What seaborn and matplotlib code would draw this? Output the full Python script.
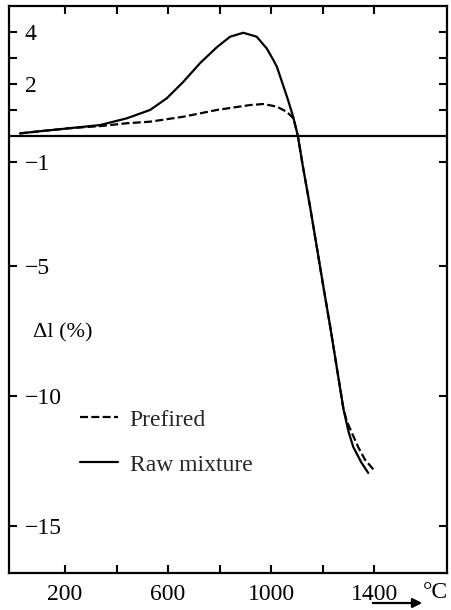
import matplotlib
matplotlib.use("Agg")
import matplotlib.pyplot as plt
import seaborn as sns

# Dilatometer curves: linear change of length vs. temperature
raw_temp = [25, 100, 219, 336, 440, 530, 595, 659, 724, 790, 841, 892, 944, 983,
            1009, 1023, 1066, 1086, 1104, 1124, 1151, 1178, 1203, 1229, 1255, 1281,
            1300, 1319, 1350, 1377]
raw_dl = [0.10, 0.18, 0.30, 0.42, 0.68, 1.00, 1.45, 2.08, 2.80, 3.42, 3.82, 3.97, 3.82, 3.37,
          2.92, 2.65, 1.38, 0.73, 0.00, -1.20, -2.70, -4.30, -5.80, -7.30, -8.90, -10.50,
          -11.35, -11.96, -12.55, -12.96]

prefired_temp = [25, 100, 219, 336, 440, 530, 659, 789, 918, 970, 1022, 1061, 1087,
                 1104, 1124, 1151, 1178, 1203, 1229, 1255, 1281, 1295, 1338, 1365, 1404]
prefired_dl = [0.10, 0.18, 0.30, 0.38, 0.49, 0.55, 0.74, 1.00, 1.19, 1.23, 1.13, 0.93, 0.68,
               0.00, -1.20, -2.70, -4.30, -5.80, -7.30, -8.90, -10.50, -11.00, -11.96, -12.46, -12.90]

x_ticks = [200, 400, 600, 800, 1000, 1200, 1400]
x_labels = ["200", "", "600", "", "1000", "", "1400"]
y_ticks = [4, 3, 2, 1, -1, -5, -10, -15]
y_labels = ["4", "", "2", "", "\u22121", "\u22125", "\u221210", "\u221215"]

sns.set_theme(style="ticks")
plt.rcParams["font.family"] = ["Liberation Serif", "DejaVu Serif"]
plt.rcParams["axes.unicode_minus"] = True

W, H = 451, 610
fig = plt.figure(figsize=(W / 100, H / 100), dpi=100)
ax = fig.add_axes([9 / W, 1 - 573 / H, (447 - 9) / W, (573 - 6) / H])

raw_line = sns.lineplot(x=raw_temp, y=raw_dl, color="black", lw=1.6, sort=False,
                        ax=ax, label="Raw mixture").lines[-1]
pre_line = sns.lineplot(x=prefired_temp, y=prefired_dl, color="black", lw=1.6, sort=False,
                        ax=ax, label="Prefired", linestyle=(0, (3.6, 1.5))).lines[-1]

ax.axhline(0, color="black", lw=1.6)

ax.set_xlim(-17.5, 1683)
ax.set_ylim(-16.81, 5.0)

for s in ax.spines.values():
    s.set_visible(True)
    s.set_linewidth(1.6)
    s.set_color("black")

ax.set_xticks(x_ticks)
ax.set_xticklabels(x_labels)
ax.set_yticks(y_ticks)
ax.set_yticklabels(y_labels, ha="left")
ax.tick_params(axis="both", direction="in", length=5.5, width=1.5, color="black",
               top=True, right=True, labelsize=17, labelcolor="black")
ax.tick_params(axis="x", pad=8)
ax.tick_params(axis="y", pad=-11.5)

ax.text(76, -7.58, "\u0394l (%)", fontsize=16, ha="left", va="center", color="black")

ax.legend(handles=[pre_line, raw_line], labels=["Prefired", "Raw mixture"],
          loc="upper left", bbox_to_anchor=(80 / W, 1 - 409 / H),
          bbox_transform=fig.transFigure, frameon=False, borderpad=0, borderaxespad=0,
          handlelength=1.6, handletextpad=0.5, labelspacing=1.0, fontsize=17)

fig.text(435 / W, 1 - 592 / H, "\u00b0C", fontsize=17, ha="center", va="center", color="black")
fig.add_artist(matplotlib.patches.FancyArrowPatch(
    (370 / W, 1 - 603 / H), (425 / W, 1 - 603 / H), transform=fig.transFigure,
    arrowstyle="-|>", mutation_scale=14, lw=1.6, color="black"))

fig.savefig("out.png", dpi=100, facecolor="white")
